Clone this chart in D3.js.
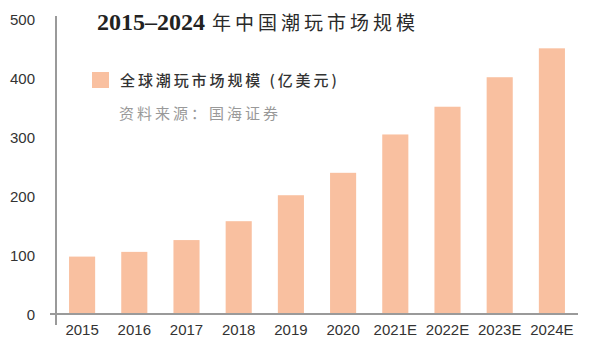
<!DOCTYPE html>
<html><head><meta charset="utf-8">
<script src="https://cdn.jsdelivr.net/npm/d3@7"></script>
<style>body{margin:0;background:#fff}svg{display:block}</style>
</head><body>
<svg id="c" width="600" height="357"></svg>
<script>
const categories = ["2015","2016","2017","2018","2019","2020","2021E","2022E","2023E","2024E"];
const values = [99, 107, 127, 159, 203, 241, 306, 353, 403, 452];
const yTicks = [0, 100, 200, 300, 400, 500];
const titleYears = "2015–2024";
const titleRest = "年中国潮玩市场规模";
const legendText = "全球潮玩市场规模 (亿美元)";
const sourceText = "资料来源：国海证券";

const svg = d3.select("#c");
const x0 = 56, x1 = 578, yTop = 20, yBot = 315;
const x = d3.scaleBand().domain(categories).range([x0, x1]).paddingInner(0.5).paddingOuter(0.25);
const y = d3.scaleLinear().domain([0, 500]).range([yBot, yTop]);
const barColor = "#F9C0A0";
const axisColor = "#9a9a9a";
const textColor = "#333";
const tickFont = "'Liberation Sans', Arial, sans-serif";

svg.selectAll("rect.bar").data(values).join("rect")
  .attr("class","bar")
  .attr("x",(d,i)=>x(categories[i]))
  .attr("width",x.bandwidth())
  .attr("y",d=>y(d))
  .attr("height",d=>y(0)-y(d))
  .attr("fill",barColor);

// y axis
const ya = svg.append("g").attr("transform",`translate(${x0},0)`)
  .call(d3.axisLeft(y).tickValues(yTicks).tickSize(0).tickPadding(21));
ya.select(".domain").remove();
ya.selectAll("text").attr("font-family",tickFont).attr("font-size",15).attr("fill",textColor).attr("dy","0.3em");
svg.append("line").attr("x1",x0).attr("x2",x0).attr("y1",16).attr("y2",325).attr("stroke",axisColor).attr("stroke-width",2);

// x axis
const xa = svg.append("g").attr("transform",`translate(0,${yBot-1})`)
  .call(d3.axisBottom(x).tickSize(0).tickPadding(10));
xa.select(".domain").remove();
xa.selectAll("text").attr("font-family",tickFont).attr("font-size",15).attr("fill",textColor);
svg.append("line").attr("x1",50).attr("x2",x1).attr("y1",yBot-1).attr("y2",yBot-1).attr("stroke",axisColor).attr("stroke-width",2);

// title
const t = svg.append("text").attr("x",97).attr("y",30).attr("fill","#222");
t.append("tspan").attr("font-family","'Liberation Serif', serif").attr("font-weight","bold").attr("font-size",24).text(titleYears);
t.append("tspan").attr("x",212).attr("font-family","'Noto Sans CJK SC', sans-serif").attr("font-size",19).attr("letter-spacing",4).attr("fill","#2a2a2a").text(titleRest);

// legend
svg.append("rect").attr("x",92).attr("y",72).attr("width",17).attr("height",16).attr("fill",barColor);
svg.append("text").attr("x",120).attr("y",86)
  .attr("font-family","'Noto Sans CJK SC', sans-serif").attr("font-size",15).attr("font-weight",500).attr("letter-spacing",2.9).attr("fill","#333")
  .text(legendText);
svg.append("text").attr("x",119).attr("y",119)
  .attr("font-family","'Noto Sans CJK SC', sans-serif").attr("font-size",15).attr("letter-spacing",3).attr("fill","#999")
  .text(sourceText);
</script>
</body></html>
